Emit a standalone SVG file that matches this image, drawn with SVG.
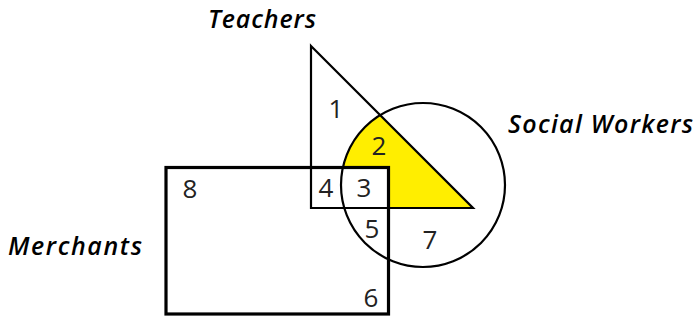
<svg xmlns="http://www.w3.org/2000/svg" width="697" height="320" viewBox="0 0 697 320">
<style>
.ln{fill:none;stroke:#000;stroke-width:2.2}
.num{font-family:"Open Sans","Liberation Sans",sans-serif;font-size:26px;fill:#222;text-anchor:middle}
.ttl{font-family:"Open Sans","Liberation Sans",sans-serif;font-size:25px;font-style:italic;font-weight:600;fill:#000}
</style>
<defs>
<clipPath id="cc"><circle cx="423" cy="185" r="82"/></clipPath>
</defs>
<rect width="697" height="320" fill="#fff"/>
<g id="region2">
<polygon points="311,46 473,208 311,208" fill="#ffee00" clip-path="url(#cc)"/>
<rect x="311" y="167" width="77.5" height="41" fill="#fff"/>
</g>
<g id="teachers">
<polygon class="ln" points="311,46 473,208 311,208"/>
<text class="ttl" x="208" y="28" textLength="108" lengthAdjust="spacing">Teachers</text>
</g>
<g id="socialworkers">
<circle class="ln" cx="423" cy="185" r="82"/>
<text class="ttl" x="508" y="133" textLength="185" lengthAdjust="spacing">Social Workers</text>
</g>
<g id="merchants">
<rect x="166" y="167.5" width="222.5" height="146.5" fill="none" stroke="#000" stroke-width="3.2"/>
<text class="ttl" x="8" y="255" textLength="134" lengthAdjust="spacing">Merchants</text>
</g>
<g id="labels">
<text class="num" x="336" y="118">1</text>
<text class="num" x="379" y="155">2</text>
<text class="num" x="364" y="197">3</text>
<text class="num" x="326" y="197">4</text>
<text class="num" x="372" y="238">5</text>
<text class="num" x="371" y="307">6</text>
<text class="num" x="430" y="249">7</text>
<text class="num" x="190" y="198">8</text>
</g>
</svg>
